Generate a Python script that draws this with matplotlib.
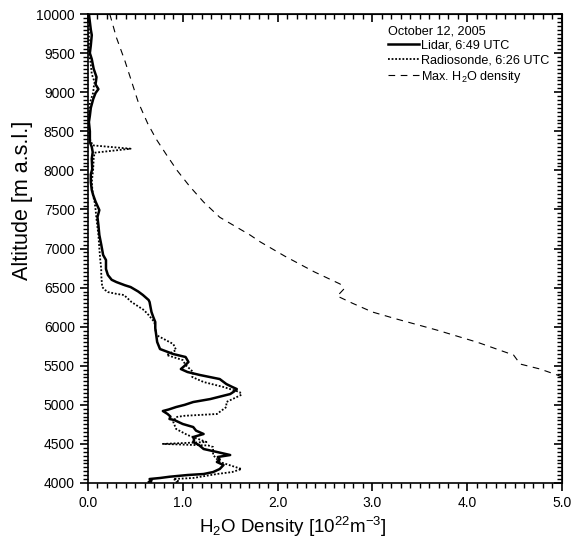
import matplotlib
matplotlib.use("Agg")
import matplotlib.pyplot as plt
from matplotlib.ticker import MultipleLocator, FormatStrFormatter

plt.rcParams['font.family'] = ['Liberation Sans', 'DejaVu Sans']
plt.rcParams['mathtext.fontset'] = 'custom'
plt.rcParams['mathtext.rm'] = 'Liberation Sans'
plt.rcParams['mathtext.it'] = 'Liberation Sans:italic'

# Lidar profile
lidar_alt = [10000, 9900, 9800, 9731, 9600, 9500, 9424, 9300, 9194, 9100, 9040, 8990, 8912, 8800, 8700,
             8618, 8500, 8362, 8300, 8234, 8150, 8017, 7950, 7850, 7750, 7684, 7600, 7492, 7403, 7300,
             7173, 7050, 6917, 6853, 6738, 6661, 6600, 6571, 6530, 6507, 6450, 6405, 6341, 6315, 6250,
             6188, 6120, 6060, 5980, 5893, 5804, 5714, 5650, 5612, 5548, 5500, 5458, 5420, 5382, 5330,
             5266, 5230, 5202, 5170, 5138, 5074, 5036, 5000, 4972, 4940, 4921, 4883, 4850, 4819, 4806,
             4755, 4716, 4670, 4627, 4588, 4550, 4524, 4486, 4435, 4397, 4358, 4333, 4300, 4269, 4230,
             4179, 4140, 4115, 4102, 4080, 4064, 4051, 4030, 4013, 4000]
lidar_val = [0.01, 0.02, 0.03, 0.04, 0.03, 0.02, 0.04, 0.06, 0.09, 0.08, 0.11, 0.08, 0.055, 0.03, 0.02,
             0.01, 0.02, 0.02, 0.04, 0.05, 0.04, 0.045, 0.03, 0.03, 0.04, 0.055, 0.08, 0.12, 0.10, 0.11,
             0.12, 0.14, 0.16, 0.19, 0.19, 0.21, 0.25, 0.30, 0.39, 0.45, 0.53, 0.58, 0.64, 0.65, 0.66,
             0.67, 0.69, 0.71, 0.71, 0.72, 0.73, 0.76, 0.90, 1.03, 1.06, 1.02, 0.98, 1.05, 1.18, 1.39,
             1.46, 1.52, 1.57, 1.54, 1.50, 1.29, 1.11, 1.02, 0.93, 0.85, 0.79, 0.84, 0.87, 0.86, 0.91,
             1.00, 1.11, 1.14, 1.22, 1.11, 1.12, 1.11, 1.17, 1.22, 1.36, 1.50, 1.37, 1.39, 1.36, 1.43,
             1.39, 1.32, 1.22, 1.05, 0.86, 0.76, 0.65, 0.67, 0.64, 0.66]

# Radiosonde profile
sonde_alt = [10000, 9800, 9650, 9513, 9350, 9232, 9130, 9060, 8994, 8866, 8700, 8490, 8400, 8320, 8277,
             8226, 8150, 8017, 7850, 7700, 7595, 7500, 7377, 7173, 7000, 6850, 6738, 6661, 6507, 6470,
             6443, 6420, 6405, 6315, 6213, 6149, 6060, 5893, 5868, 5778, 5701, 5637, 5573, 5510, 5420,
             5356, 5292, 5228, 5164, 5130, 5100, 5036, 4972, 4883, 4860, 4844, 4780, 4691, 4614, 4560,
             4524, 4500, 4480, 4460, 4358, 4269, 4179, 4140, 4115, 4064, 4051, 4020, 4000]
sonde_val = [0.0, 0.01, 0.01, 0.01, 0.03, 0.04, 0.07, 0.06, 0.055, 0.02, 0.01, 0.01, 0.02, 0.05, 0.45,
             0.07, 0.06, 0.055, 0.04, 0.05, 0.07, 0.08, 0.09, 0.11, 0.12, 0.13, 0.14, 0.14, 0.15, 0.18,
             0.21, 0.30, 0.38, 0.46, 0.59, 0.64, 0.70, 0.72, 0.76, 0.90, 0.93, 0.83, 1.00, 1.03, 1.11,
             1.10, 1.22, 1.43, 1.60, 1.62, 1.57, 1.46, 1.46, 1.36, 1.02, 0.93, 0.90, 0.93, 1.05, 1.17,
             1.25, 0.79, 1.27, 1.32, 1.32, 1.39, 1.62, 1.52, 1.36, 1.11, 0.90, 0.96, 0.91]

# Maximum H2O density (saturation)
max_alt = [10000, 9700, 9400, 9100, 8874, 8600, 8400, 8196, 8000, 7800, 7595, 7400, 7173, 7083, 6900,
           6700, 6546, 6482, 6392, 6300, 6188, 6100, 5957, 5800, 5637, 5522, 5458, 5382, 5356]
max_val = [0.23, 0.30, 0.39, 0.47, 0.53, 0.63, 0.72, 0.83, 0.94, 1.07, 1.22, 1.39, 1.71, 1.82, 2.08,
           2.39, 2.66, 2.70, 2.63, 2.79, 3.00, 3.25, 3.68, 4.11, 4.49, 4.56, 4.77, 4.95, 5.0]

legend_title = "October 12, 2005"
labels = ["Lidar, 6:49 UTC", "Radiosonde, 6:26 UTC", "Max. H$_2$O density"]

fig = plt.figure(figsize=(5.78, 5.39), dpi=100)
ax = fig.add_axes([0.1522, 0.1039, 0.820, 0.870])

ax.plot(lidar_val, lidar_alt, color='black', lw=1.8, label=labels[0])
ax.plot(sonde_val, sonde_alt, color='black', lw=1.3, linestyle=(0, (1, 1)), label=labels[1])
ax.plot(max_val, max_alt, color='black', lw=0.8, linestyle=(0, (6, 5)), label=labels[2])

ax.set_xlim(0, 5.0)
ax.set_ylim(4000, 10000)
ax.xaxis.set_major_locator(MultipleLocator(1.0))
ax.xaxis.set_minor_locator(MultipleLocator(0.1))
ax.xaxis.set_major_formatter(FormatStrFormatter('%.1f'))
ax.yaxis.set_major_locator(MultipleLocator(500))
ax.yaxis.set_minor_locator(MultipleLocator(50))

ax.tick_params(axis='both', which='major', labelsize=10, length=6, width=1.2, direction='out')
ax.tick_params(axis='both', which='minor', length=3.5, width=1.0, direction='out')
for sp in ax.spines.values():
    sp.set_linewidth(1.2)

# mirrored inward ticks on top and right
axt = ax.secondary_xaxis('top')
axt.xaxis.set_major_locator(MultipleLocator(1.0))
axt.xaxis.set_minor_locator(MultipleLocator(0.1))
axt.tick_params(which='major', direction='in', length=6, width=1.2, labeltop=False)
axt.tick_params(which='minor', direction='in', length=3.5, width=1.0)
axr = ax.secondary_yaxis('right')
axr.yaxis.set_major_locator(MultipleLocator(500))
axr.yaxis.set_minor_locator(MultipleLocator(50))
axr.tick_params(which='major', direction='in', length=6, width=1.2, labelright=False)
axr.tick_params(which='minor', direction='in', length=3.5, width=1.0)

ax.set_xlabel("H$_2$O Density [10$^{22}$m$^{-3}$]", fontsize=13.5)
ax.set_ylabel("Altitude [m a.s.l.]", fontsize=15.5)
ax.xaxis.set_label_coords(0.432, -0.068)
ax.yaxis.set_label_coords(-0.116, 0.603)

leg = ax.legend(title=legend_title, loc='upper right', bbox_to_anchor=(0.9726, 0.9765), frameon=False,
                fontsize=9.1, title_fontsize=9.1, alignment='left', handlelength=2.4,
                handletextpad=0.15, labelspacing=0.2, borderpad=0.0, borderaxespad=0.0)

fig.savefig("out.png", dpi=100)
